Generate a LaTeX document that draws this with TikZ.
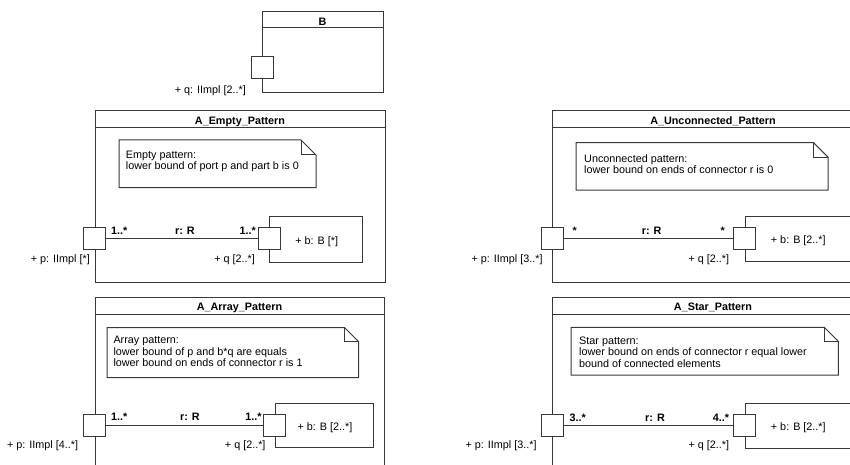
\documentclass[tikz,border=0pt]{standalone}
\usepackage{fontspec}
\setmainfont{Liberation Sans}
\newcommand\dfont{\fontsize{10.8}{11.5}\selectfont}
\tikzset{
  ln/.style={line width=1pt, draw=black!78},
  portbox/.style={ln, fill=white, minimum size=22pt, inner sep=0pt, shape=rectangle},
  partbox/.style={ln, fill=white, inner sep=0pt, shape=rectangle},
  txt/.style={inner sep=0pt, font=\dfont},
  btxt/.style={inner sep=0pt, font=\dfont\bfseries},
  notetxt/.style={inner sep=0pt, font=\dfont, align=left, anchor=north west},
}
\begin{document}
\begin{tikzpicture}[x=1pt,y=-1pt]
\clip (0,0) rectangle (850,465);
\fill[white] (0,0) rectangle (850,465);

% ---------- class B ----------
\draw[ln] (262,12) rectangle (383,93);
\draw[ln] (262,28) -- (383,28);
\node[btxt, anchor=base] (tB) at (322.5,25.5) {B};
\node[portbox] (qB) at (262,68) {};
\node[txt, anchor=base east] (lqB) at (246,93.5) {+ q: IImpl [2..*]};

% ---------- A_Empty_Pattern ----------
\draw[ln] (95,111) rectangle (385,282);
\draw[ln] (95,127.5) -- (385,127.5);
\node[btxt, anchor=base] (tE) at (240,124.8) {A\_Empty\_Pattern};
\draw[ln] (119,140) -- (301,140) -- (316,155) -- (316,187.5) -- (119,187.5) -- cycle;
\draw[ln] (301,140) -- (301,155) -- (316,155);
\node[notetxt] (nE) at (125.7,150.7) {Empty pattern:\\lower bound of port p and part b is 0};
\node[partbox, minimum width=92.5pt, minimum height=46pt] (bE) at (315.75,239) {};
\node[txt, anchor=base] (lbE) at (316.7,244) {+ b: B [*]};
\node[portbox] (pE) at (94,238.5) {};
\node[portbox] (qE) at (269,238.5) {};
\draw[ln] (pE) -- (qE);
\node[btxt, anchor=base west] (m1E) at (111,234.5) {1..*};
\node[btxt, anchor=base] (rE) at (185,234.5) {r: R};
\node[btxt, anchor=base east] (m2E) at (256,234.5) {1..*};
\node[txt, anchor=base east] (lpE) at (90,262.7) {+ p: IImpl [*]};
\node[txt, anchor=base east] (lqE) at (255,262.7) {+ q [2..*]};

% ---------- A_Unconnected_Pattern ----------
\draw[ln] (552,111) rectangle (874,282);
\draw[ln] (552,127.5) -- (874,127.5);
\node[btxt, anchor=base] (tU) at (713,124.8) {A\_Unconnected\_Pattern};
\draw[ln] (576,142.7) -- (813.5,142.7) -- (828,157.2) -- (828,190) -- (576,190) -- cycle;
\draw[ln] (813.5,142.7) -- (813.5,157.2) -- (828,157.2);
\node[notetxt] (nU) at (584,154.3) {Unconnected pattern:\\lower bound on ends of connector r is 0};
\node[partbox, minimum width=125pt, minimum height=44.3pt] (bU) at (807.5,238.85) {};
\node[txt, anchor=base] (lbU) at (798.3,243.5) {+ b: B [2..*]};
\node[portbox] (pU) at (552,238.5) {};
\node[portbox] (qU) at (744.5,238.5) {};
\draw[ln] (pU) -- (qU);
\node[btxt, anchor=base west] (m1U) at (572.5,234.5) {*};
\node[btxt, anchor=base] (rU) at (651.7,234.5) {r: R};
\node[btxt, anchor=base east] (m2U) at (725,234.5) {*};
\node[txt, anchor=base east] (lpU) at (542.7,262.7) {+ p: IImpl [3..*]};
\node[txt, anchor=base east] (lqU) at (729.3,262.7) {+ q [2..*]};

% ---------- A_Array_Pattern ----------
\draw[ln] (95,297) rectangle (384,480);
\draw[ln] (95,314) -- (384,314);
\node[btxt, anchor=base] (tA) at (239.5,310.5) {A\_Array\_Pattern};
\draw[ln] (107,327.5) -- (344.5,327.5) -- (358.5,341.5) -- (358.5,377.5) -- (107,377.5) -- cycle;
\draw[ln] (344.5,327.5) -- (344.5,341.5) -- (358.5,341.5);
\node[notetxt] (nA) at (113.3,336.3) {Array pattern:\\lower bound of p and b*q are equals\\lower bound on ends of connector r is 1};
\node[partbox, minimum width=98.5pt, minimum height=44.5pt] (bA) at (324.25,425.25) {};
\node[txt, anchor=base] (lbA) at (325,430) {+ b: B [2..*]};
\node[portbox] (pA) at (94,425) {};
\node[portbox] (qA) at (274,425) {};
\draw[ln] (pA) -- (qA);
\node[btxt, anchor=base west] (m1A) at (111,420.7) {1..*};
\node[btxt, anchor=base] (rA) at (190,420.7) {r: R};
\node[btxt, anchor=base east] (m2A) at (261.7,420.2) {1..*};
\node[txt, anchor=base east] (lpA) at (78.3,448.5) {+ p: IImpl [4..*]};
\node[txt, anchor=base east] (lqA) at (265.7,448.2) {+ q [2..*]};

% ---------- A_Star_Pattern ----------
\draw[ln] (552,297) rectangle (874,480);
\draw[ln] (552,314) -- (874,314);
\node[btxt, anchor=base] (tS) at (713,310.5) {A\_Star\_Pattern};
\draw[ln] (571,327.3) -- (824.3,327.3) -- (838.3,341.3) -- (838.3,375) -- (571,375) -- cycle;
\draw[ln] (824.3,327.3) -- (824.3,341.3) -- (838.3,341.3);
\node[notetxt] (nS) at (579,336.5) {Star pattern:\\lower bound on ends of connector r equal lower\\bound of connected elements};
\node[partbox, minimum width=125pt, minimum height=45pt] (bS) at (807.5,425.8) {};
\node[txt, anchor=base] (lbS) at (798.3,430.5) {+ b: B [2..*]};
\node[portbox] (pS) at (552,425.5) {};
\node[portbox] (qS) at (744.5,425.5) {};
\draw[ln] (pS) -- (qS);
\node[btxt, anchor=base west] (m1S) at (569.3,421) {3..*};
\node[btxt, anchor=base] (rS) at (655,421) {r: R};
\node[btxt, anchor=base east] (m2S) at (729.3,421) {4..*};
\node[txt, anchor=base east] (lpS) at (536.7,448.5) {+ p: IImpl [3..*]};
\node[txt, anchor=base east] (lqS) at (729.3,448.2) {+ q [2..*]};
\end{tikzpicture}
\end{document}
